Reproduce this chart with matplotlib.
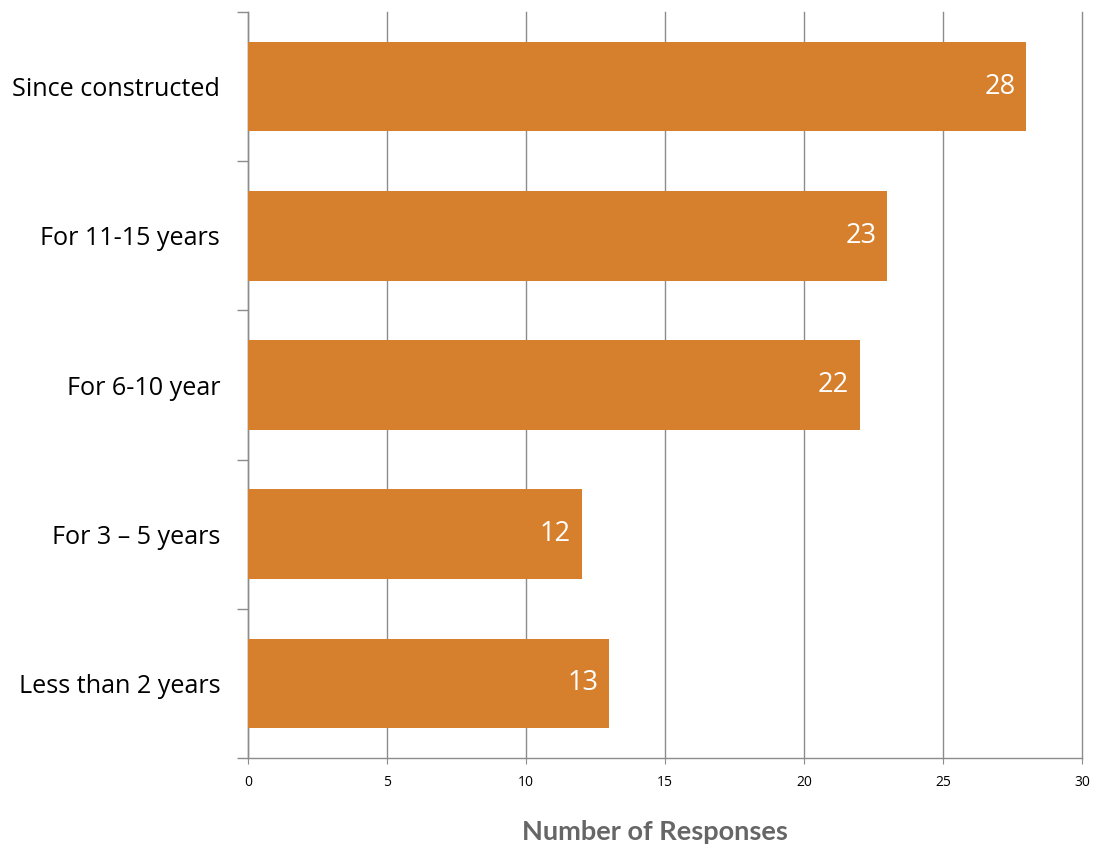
import matplotlib
matplotlib.use("Agg")
import matplotlib.pyplot as plt

categories = ["Since constructed", "For 11-15 years", "For 6-10 year",
              "For 3 \u2013 5 years", "Less than 2 years"]
responses = [28, 23, 22, 12, 13]
xticks = [0, 5, 10, 15, 20, 25, 30]

bar_color = "#D67F2C"
grid_color = "#8C8C8C"
body_font = ["Open Sans", "DejaVu Sans"]

fig = plt.figure(figsize=(10.95, 8.48), dpi=100)
W, H = 1095, 848
ax = fig.add_axes([248 / W, 1 - 758 / H, (1082 - 248) / W, (758 - 12) / H])

n = len(categories)
ypos = list(range(n))
ax.barh(ypos, responses, height=0.6, color=bar_color, zorder=3)
ax.set_ylim(n - 0.5, -0.5)
ax.set_xlim(0, 30)

for y, v in zip(ypos, responses):
    ax.text(v - 0.38, y, str(v), ha="right", va="center", color="white",
            fontsize=19.5, family=body_font, zorder=4)

ax.set_xticks(xticks)
ax.set_xticklabels([str(t) for t in xticks], fontsize=10, family=body_font)
ax.tick_params(axis="x", length=4, color=grid_color, pad=8)
ax.xaxis.grid(True, color=grid_color, linewidth=1.0, zorder=0)
for gl in ax.get_xgridlines():
    gl.set_clip_on(False)

# category labels sit between the boundary ticks
ax.set_yticks([i - 0.5 for i in range(n + 1)], minor=False)
ax.set_yticklabels([])
ax.tick_params(axis="y", which="major", length=8, color=grid_color, width=1.0)
ax.set_yticks(ypos, minor=True)
ax.set_yticklabels(categories, minor=True, fontsize=18.1, family=body_font)
ax.tick_params(axis="y", which="minor", length=0, pad=20)

for side in ("top", "right"):
    ax.spines[side].set_visible(False)
for side in ("left", "bottom"):
    ax.spines[side].set_color(grid_color)
    ax.spines[side].set_linewidth(1.0)

fig.text(655 / W, 1 - 832 / H, "Number of Responses", ha="center", va="center",
         fontsize=19.5, fontweight="bold", color="#666666",
         family=["Lato", "DejaVu Sans"])

fig.savefig("out.png", dpi=100)
